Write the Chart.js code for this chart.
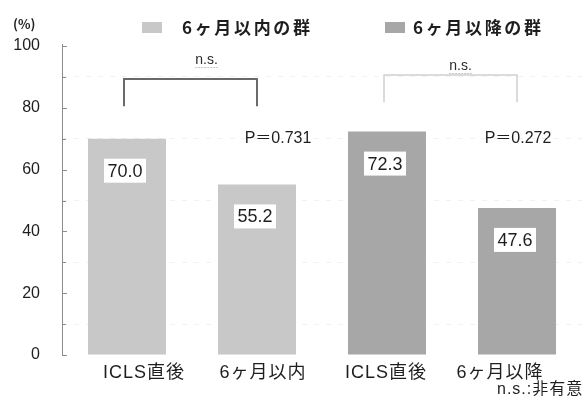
<!DOCTYPE html>
<html lang="ja">
<head>
<meta charset="utf-8">
<title>ICLS 講習後の正答率</title>
<script src="https://cdn.jsdelivr.net/npm/chart.js@4.4.1/dist/chart.umd.min.js"></script>
<style>
  html, body { margin: 0; padding: 0; background: #ffffff; }
  #wrap { width: 585px; height: 398px; }
</style>
</head>
<body>
<div id="wrap"><canvas id="chart" width="585" height="398"></canvas></div>
<script>
// ---- data ----
const categories = ['ICLS直後', '6ヶ月以内', 'ICLS直後', '6ヶ月以降'];
const groupNames = ['6ヶ月以内の群', '6ヶ月以降の群'];
const withinValues = [70.0, 55.2, null, null];
const afterValues = [null, null, 72.3, 47.6];
const pLabels = ['P＝0.731', 'P＝0.272'];
const sigLabels = ['n.s.', 'n.s.'];
const yTicks = [0, 20, 40, 60, 80, 100];
const unitLabel = '(%)';
const footnote = 'n.s.:非有意';

// ---- styling ----
const LATIN = '"Liberation Sans", Arial, "Noto Sans CJK JP", sans-serif';
const CJK = '"Noto Sans CJK JP", "Liberation Sans", sans-serif';
const COLORS = ['#c8c8c8', '#a7a7a7'];
const TEXT = '#1e1e1e';
const labelShift = [17, 6, -1, -17];          // x-label nudges from bar centres
const pShift = [21, 1];                        // p-value nudges from 2nd bar of each pair
const bracketStyle = [
  { top: 89.3, foot: 80.5, color: '#6a6a6a', width: 2, nsShift: 16, nsY: 60 },
  { top: 90.6, foot: 81.8, color: '#d0d0d0', width: 1.5, nsShift: 10, nsY: 66 }
];

function spacedText(ctx, text, x, y, targetWidth) {
  ctx.letterSpacing = '0px';
  const w = ctx.measureText(text).width;
  const n = [...text].length;
  const sp = n > 1 ? Math.max(0, (targetWidth - w) / (n - 1)) : 0;
  ctx.letterSpacing = sp + 'px';
  ctx.fillText(text, x, y);
  ctx.letterSpacing = '0px';
}

const decorations = {
  id: 'decorations',
  afterDatasetsDraw(chart) {
    const ctx = chart.ctx;
    const x = chart.scales.x, y = chart.scales.y;
    const area = chart.chartArea;
    ctx.save();

    // left axis with inward ticks
    ctx.strokeStyle = '#8c8c8c';
    ctx.lineWidth = 1;
    ctx.beginPath();
    ctx.moveTo(area.left + 0.5, area.top - 2);
    ctx.lineTo(area.left + 0.5, area.bottom);
    ctx.stroke();
    for (let v = 0; v <= 100; v += 10) {
      const py = Math.round(y.getPixelForValue(v)) + 0.5;
      ctx.beginPath();
      ctx.moveTo(area.left, py);
      ctx.lineTo(area.left + (v % 20 === 0 ? 5 : 4), py);
      ctx.stroke();
    }

    // value boxes inside the bars
    ctx.font = '18px ' + LATIN;
    ctx.textAlign = 'center';
    ctx.textBaseline = 'middle';
    chart.data.datasets.forEach((ds, di) => {
      const meta = chart.getDatasetMeta(di);
      meta.data.forEach((el, i) => {
        const v = ds.data[i];
        if (v === null || v === undefined) return;
        const txt = v.toFixed(1);
        const cy = el.y + 32;
        const w = ctx.measureText(txt).width + 7;
        ctx.fillStyle = '#ffffff';
        ctx.fillRect(el.x - w / 2 - 2, cy - 12, w, 24);
        ctx.fillStyle = TEXT;
        ctx.fillText(txt, el.x - 2, cy + 1);
      });
    });

    // significance brackets over each pair
    bracketStyle.forEach((b, k) => {
      const x1 = x.getPixelForValue(k * 2) - 3;
      const x2 = x.getPixelForValue(k * 2 + 1);
      const yt = y.getPixelForValue(b.top);
      const yf = y.getPixelForValue(b.foot);
      ctx.strokeStyle = b.color;
      ctx.lineWidth = b.width;
      ctx.beginPath();
      ctx.moveTo(x1, yf);
      ctx.lineTo(x1, yt);
      ctx.lineTo(x2, yt);
      ctx.lineTo(x2, yf);
      ctx.stroke();

      const cx = (x1 + x2) / 2 + b.nsShift;
      ctx.font = '14px ' + LATIN;
      ctx.fillStyle = '#2a2a2a';
      ctx.textAlign = 'center';
      ctx.textBaseline = 'middle';
      ctx.fillText(sigLabels[k], cx, b.nsY);
      const tw = ctx.measureText(sigLabels[k]).width;
      ctx.strokeStyle = '#c4c4c4';
      ctx.lineWidth = 1;
      ctx.setLineDash([2, 1]);
      ctx.beginPath();
      ctx.moveTo(cx - tw / 2, b.nsY + 7.5);
      ctx.lineTo(cx + tw / 2, b.nsY + 7.5);
      ctx.stroke();
      ctx.setLineDash([]);

      // p-values
      ctx.font = '16px ' + LATIN;
      ctx.fillStyle = TEXT;
      ctx.textAlign = 'center';
      ctx.fillText(pLabels[k], x2 + pShift[k], y.getPixelForValue(70));
    });

    // category labels
    ctx.font = '18px ' + LATIN;
    ctx.fillStyle = TEXT;
    ctx.textAlign = 'center';
    ctx.textBaseline = 'middle';
    categories.forEach((c, i) => {
      ctx.letterSpacing = '1px';
      ctx.fillText(c, x.getPixelForValue(i) + labelShift[i], area.bottom + 18);
      ctx.letterSpacing = '0px';
    });

    // footnote
    ctx.font = '16px ' + LATIN;
    ctx.textAlign = 'left';
    ctx.letterSpacing = '1px';
    ctx.fillText(footnote, 497, area.bottom + 35);
    ctx.letterSpacing = '0px';

    // unit
    ctx.font = 'bold 13px ' + CJK;
    ctx.textAlign = 'left';
    ctx.fillText(unitLabel, 13, 24);

    // legend
    const legendPos = [{ box: 142, text: 182, width: 128 }, { box: 385, text: 413, width: 128 }];
    groupNames.forEach((g, k) => {
      const p = legendPos[k];
      ctx.fillStyle = chart.data.datasets[k].backgroundColor;
      ctx.fillRect(p.box, 22, 20, 11);
      ctx.fillStyle = TEXT;
      ctx.font = 'bold 17px ' + CJK;
      ctx.textAlign = 'left';
      ctx.textBaseline = 'middle';
      spacedText(ctx, g, p.text, 28, p.width);
    });

    ctx.restore();
  }
};

new Chart(document.getElementById('chart'), {
  type: 'bar',
  data: {
    labels: categories,
    datasets: [
      { label: groupNames[0], data: withinValues, backgroundColor: COLORS[0] },
      { label: groupNames[1], data: afterValues, backgroundColor: COLORS[1] }
    ]
  },
  options: {
    responsive: false,
    devicePixelRatio: 1,
    animation: false,
    layout: { padding: { top: 46, right: 3, bottom: 43, left: 0 } },
    datasets: { bar: { grouped: false, barPercentage: 0.6, categoryPercentage: 1 } },
    plugins: { legend: { display: false }, tooltip: { enabled: false } },
    scales: {
      x: { display: false },
      y: {
        min: 0, max: 100,
        afterFit(scale) { scale.width = 62; },
        ticks: {
          stepSize: 10,
          padding: 22,
          color: TEXT,
          font: { size: 16, family: LATIN },
          callback: v => (yTicks.includes(v) ? String(v) : '')
        },
        grid: {
          drawTicks: false,
          lineWidth: 1,
          color: c => (c.tick && c.tick.value % 20 === 10 ? '#f1f1f1' : 'rgba(0,0,0,0)')
        },
        border: { display: false, dash: [5, 7] }
      }
    }
  },
  plugins: [decorations]
});
</script>
</body>
</html>
